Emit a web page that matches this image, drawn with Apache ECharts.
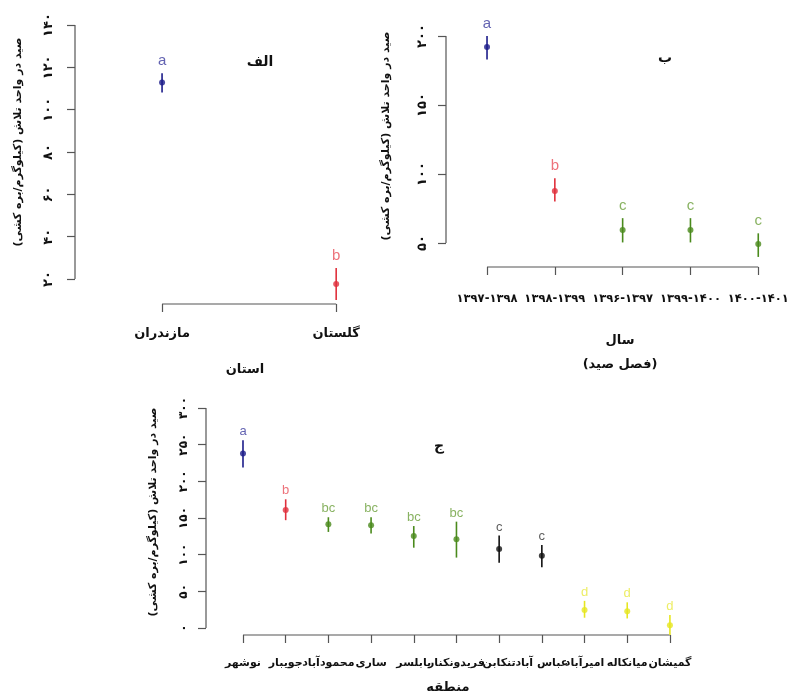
<!DOCTYPE html>
<html>
<head>
<meta charset="utf-8">
<script src="https://cdn.jsdelivr.net/npm/echarts@6/dist/echarts.min.js"></script>
<style>html,body{margin:0;padding:0;background:#fff}#c{width:787px;height:697px}</style>
</head>
<body>
<div id="c"></div>
<script>
// ---- Data: panel الف (province) ----
const provinces = ['مازندران', 'گلستان'];
const provinceMean = [112.9, 17.6];
const provinceLow = [108.2, 10.1];
const provinceHigh = [117.2, 25.2];
const provinceLetters = ['a', 'b'];
const provinceTicks = [20, 40, 60, 80, 100, 120, 140];

// ---- Data: panel ب (season) ----
const seasons = ['۱۳۹۷-۱۳۹۸', '۱۳۹۸-۱۳۹۹', '۱۳۹۶-۱۳۹۷', '۱۳۹۹-۱۴۰۰', '۱۴۰۰-۱۴۰۱'];
const seasonMean = [192, 87.7, 59.4, 59.4, 49.3];
const seasonLow = [183, 80, 50.4, 50.4, 39.9];
const seasonHigh = [200, 97, 68, 68, 57];
const seasonLetters = ['a', 'b', 'c', 'c', 'c'];
const seasonTicks = [50, 100, 150, 200];

// ---- Data: panel ج (region) ----
const regions = ['نوشهر', 'جویبار', 'محمودآباد', 'ساری', 'بابلسر', 'فریدونکنار', 'تنکابن', 'عباس آباد', 'امیرآباد', 'میانکاله', 'گمیشان'];
const regionMean = [238, 161, 141.4, 140, 125.5, 121, 107.7, 98.6, 24.5, 23, 3.6];
const regionLow = [219, 147, 131, 129, 109.5, 96, 89, 82.7, 14, 13, -9.5];
const regionHigh = [256, 175.5, 151, 151, 139, 145, 126, 113, 37, 35, 17.7];
const regionLetters = ['a', 'b', 'bc', 'bc', 'bc', 'bc', 'c', 'c', 'd', 'd', 'd'];
const regionTicks = [0, 50, 100, 150, 200, 250, 300];

// ---- Styles ----
const YTITLE = 'صید در واحد تلاش (کیلوگرم/بره کشی)';
const FA = 'DejaVu Sans';
const LAT = 'Liberation Sans';
const AXIS_COLOR = '#555';
const pointColors1 = { a: '#1c1c8a', b: '#e0303c' };
const letterColors1 = { a: '#3b3b9e', b: '#e8505a' };
const pointColors2 = { a: '#1c1c8a', b: '#e0303c', c: '#4a8a1c' };
const letterColors2 = { a: '#3b3b9e', b: '#e8505a', c: '#6a9f3a' };
const pointColors3 = { a: '#1c1c8a', b: '#e0303c', bc: '#4a8a1c', c: '#111', d: '#e6e620' };
const letterColors3 = { a: '#3b3b9e', b: '#e8505a', bc: '#6a9f3a', c: '#333', d: '#e8e840' };

const faDigits = v => String(v).replace(/\d/g, d => '۰۱۲۳۴۵۶۷۸۹'[d]);

const grids = [
  { left: 75, top: 20, width: 296, height: 284, outerBoundsMode: 'none' },
  { left: 446, top: 12, width: 336, height: 255, outerBoundsMode: 'none' },
  { left: 206, top: 398, width: 481, height: 237, outerBoundsMode: 'none' }
];
const panels = [
  { names: provinces, mean: provinceMean, low: provinceLow, high: provinceHigh, letters: provinceLetters, ticks: provinceTicks,
    xmin: -0.5, xmax: 1.2, ymin: 8.2, ymax: 142.4, pc: pointColors1, lc: letterColors1,
    ylabMargin: 20, xlabMargin: 23, xlabSize: 13, ylabSize: 13, letterSize: 15, letterDist: 5 },
  { names: seasons, mean: seasonMean, low: seasonLow, high: seasonHigh, letters: seasonLetters, ticks: seasonTicks,
    xmin: -0.605, xmax: 4.35, ymin: 32.6, ymax: 217.4, pc: pointColors2, lc: letterColors2,
    ylabMargin: 17, xlabMargin: 26, xlabSize: 11.5, ylabSize: 13, letterSize: 15, letterDist: 5 },
  { names: regions, mean: regionMean, low: regionLow, high: regionHigh, letters: regionLetters, ticks: regionTicks,
    xmin: -0.8665, xmax: 10.4, ymin: -9.55, ymax: 313.6, pc: pointColors3, lc: letterColors3,
    ylabMargin: 16, xlabMargin: 23, xlabSize: 11, ylabSize: 12, letterSize: 13, letterDist: 2 }
];

const xAxis = [], yAxis = [], series = [];
panels.forEach((p, i) => {
  const idx = p.names.map((_, k) => k);
  xAxis.push({
    type: 'value', gridIndex: i, min: p.xmin, max: p.xmax, position: 'bottom',
    axisLine: { show: false, onZero: false }, splitLine: { show: false },
    axisTick: { show: true, interval: 0, customValues: idx, length: 8, lineStyle: { color: AXIS_COLOR, width: 1.2 } },
    axisLabel: { show: true, interval: 0, customValues: idx, formatter: v => p.names[Math.round(v)], margin: p.xlabMargin,
      hideOverlap: false, showMinLabel: true, showMaxLabel: true,
      fontFamily: FA, fontWeight: 'bold', fontSize: p.xlabSize, color: '#111' }
  });
  yAxis.push({
    type: 'value', gridIndex: i, min: p.ymin, max: p.ymax, position: 'left',
    axisLine: { show: false, onZero: false }, splitLine: { show: false },
    axisTick: { show: true, customValues: p.ticks, length: 8, lineStyle: { color: AXIS_COLOR, width: 1.2 } },
    axisLabel: { show: true, customValues: p.ticks, formatter: v => faDigits(v), rotate: 90, margin: p.ylabMargin,
      hideOverlap: false, showMinLabel: true, showMaxLabel: true,
      fontFamily: FA, fontWeight: 'bold', fontSize: p.ylabSize, color: '#111' }
  });
  // axis line segments (R style: from first to last tick)
  series.push({
    type: 'custom', xAxisIndex: i, yAxisIndex: i, silent: true, clip: false,
    data: [[0, p.ticks[0], p.ticks[p.ticks.length - 1], p.names.length - 1]],
    renderItem: (params, api) => {
      const cs = params.coordSys;
      const yA = api.coord([0, api.value(1)])[1];
      const yB = api.coord([0, api.value(2)])[1];
      const xA = api.coord([api.value(0), 0])[0];
      const xB = api.coord([api.value(3), 0])[0];
      const bottom = cs.y + cs.height;
      const st = { stroke: AXIS_COLOR, lineWidth: 1.2 };
      return { type: 'group', children: [
        { type: 'line', shape: { x1: cs.x, y1: yA, x2: cs.x, y2: yB }, style: st },
        { type: 'line', shape: { x1: xA, y1: bottom, x2: xB, y2: bottom }, style: st }
      ] };
    }
  });
  // error bars
  series.push({
    type: 'custom', xAxisIndex: i, yAxisIndex: i, silent: true, clip: false,
    data: idx.map(k => [k, p.low[k], p.high[k]]),
    renderItem: (params, api) => {
      const k = api.value(0);
      const a = api.coord([k, api.value(1)]);
      const b = api.coord([k, api.value(2)]);
      return { type: 'line', shape: { x1: a[0], y1: a[1], x2: b[0], y2: b[1] },
        style: { stroke: p.pc[p.letters[k]], lineWidth: 1.6 } };
    }
  });
  // mean points
  series.push({
    type: 'scatter', xAxisIndex: i, yAxisIndex: i, symbolSize: 6, silent: true,
    data: idx.map(k => ({ value: [k, p.mean[k]], itemStyle: { color: p.pc[p.letters[k]] } }))
  });
  // group letters
  series.push({
    type: 'scatter', xAxisIndex: i, yAxisIndex: i, symbolSize: 0, silent: true,
    data: idx.map(k => ({ value: [k, p.high[k]],
      label: { show: true, position: 'top', distance: p.letterDist, formatter: p.letters[k],
        color: p.lc[p.letters[k]], fontFamily: LAT, fontSize: p.letterSize } }))
  });
});

function txt(x, y, text, rot, size) {
  return { type: 'text', x: x, y: y, rotation: rot || 0, silent: true,
    style: { text: text, fill: '#111', font: 'bold ' + (size || 13) + 'px "' + FA + '"',
      align: 'center', verticalAlign: 'middle', textAlign: 'center', textVerticalAlign: 'middle' } };
}

const chart = echarts.init(document.getElementById('c'));
chart.setOption({
  animation: false,
  backgroundColor: '#fff',
  grid: grids, xAxis: xAxis, yAxis: yAxis, series: series,
  graphic: [
    txt(260, 62, 'الف', 0, 14),
    txt(665, 58, 'ب', 0, 14),
    txt(439, 446, 'ج', 0, 14),
    txt(245, 370, 'استان', 0, 13),
    txt(620, 341, 'سال', 0, 13),
    txt(620, 365, '(فصل صید)', 0, 13),
    txt(448, 688, 'منطقه', 0, 13),
    txt(18, 142, YTITLE, Math.PI / 2, 11),
    txt(386, 136, YTITLE, Math.PI / 2, 11),
    txt(153, 512, YTITLE, Math.PI / 2, 11)
  ]
});
</script>
</body>
</html>
